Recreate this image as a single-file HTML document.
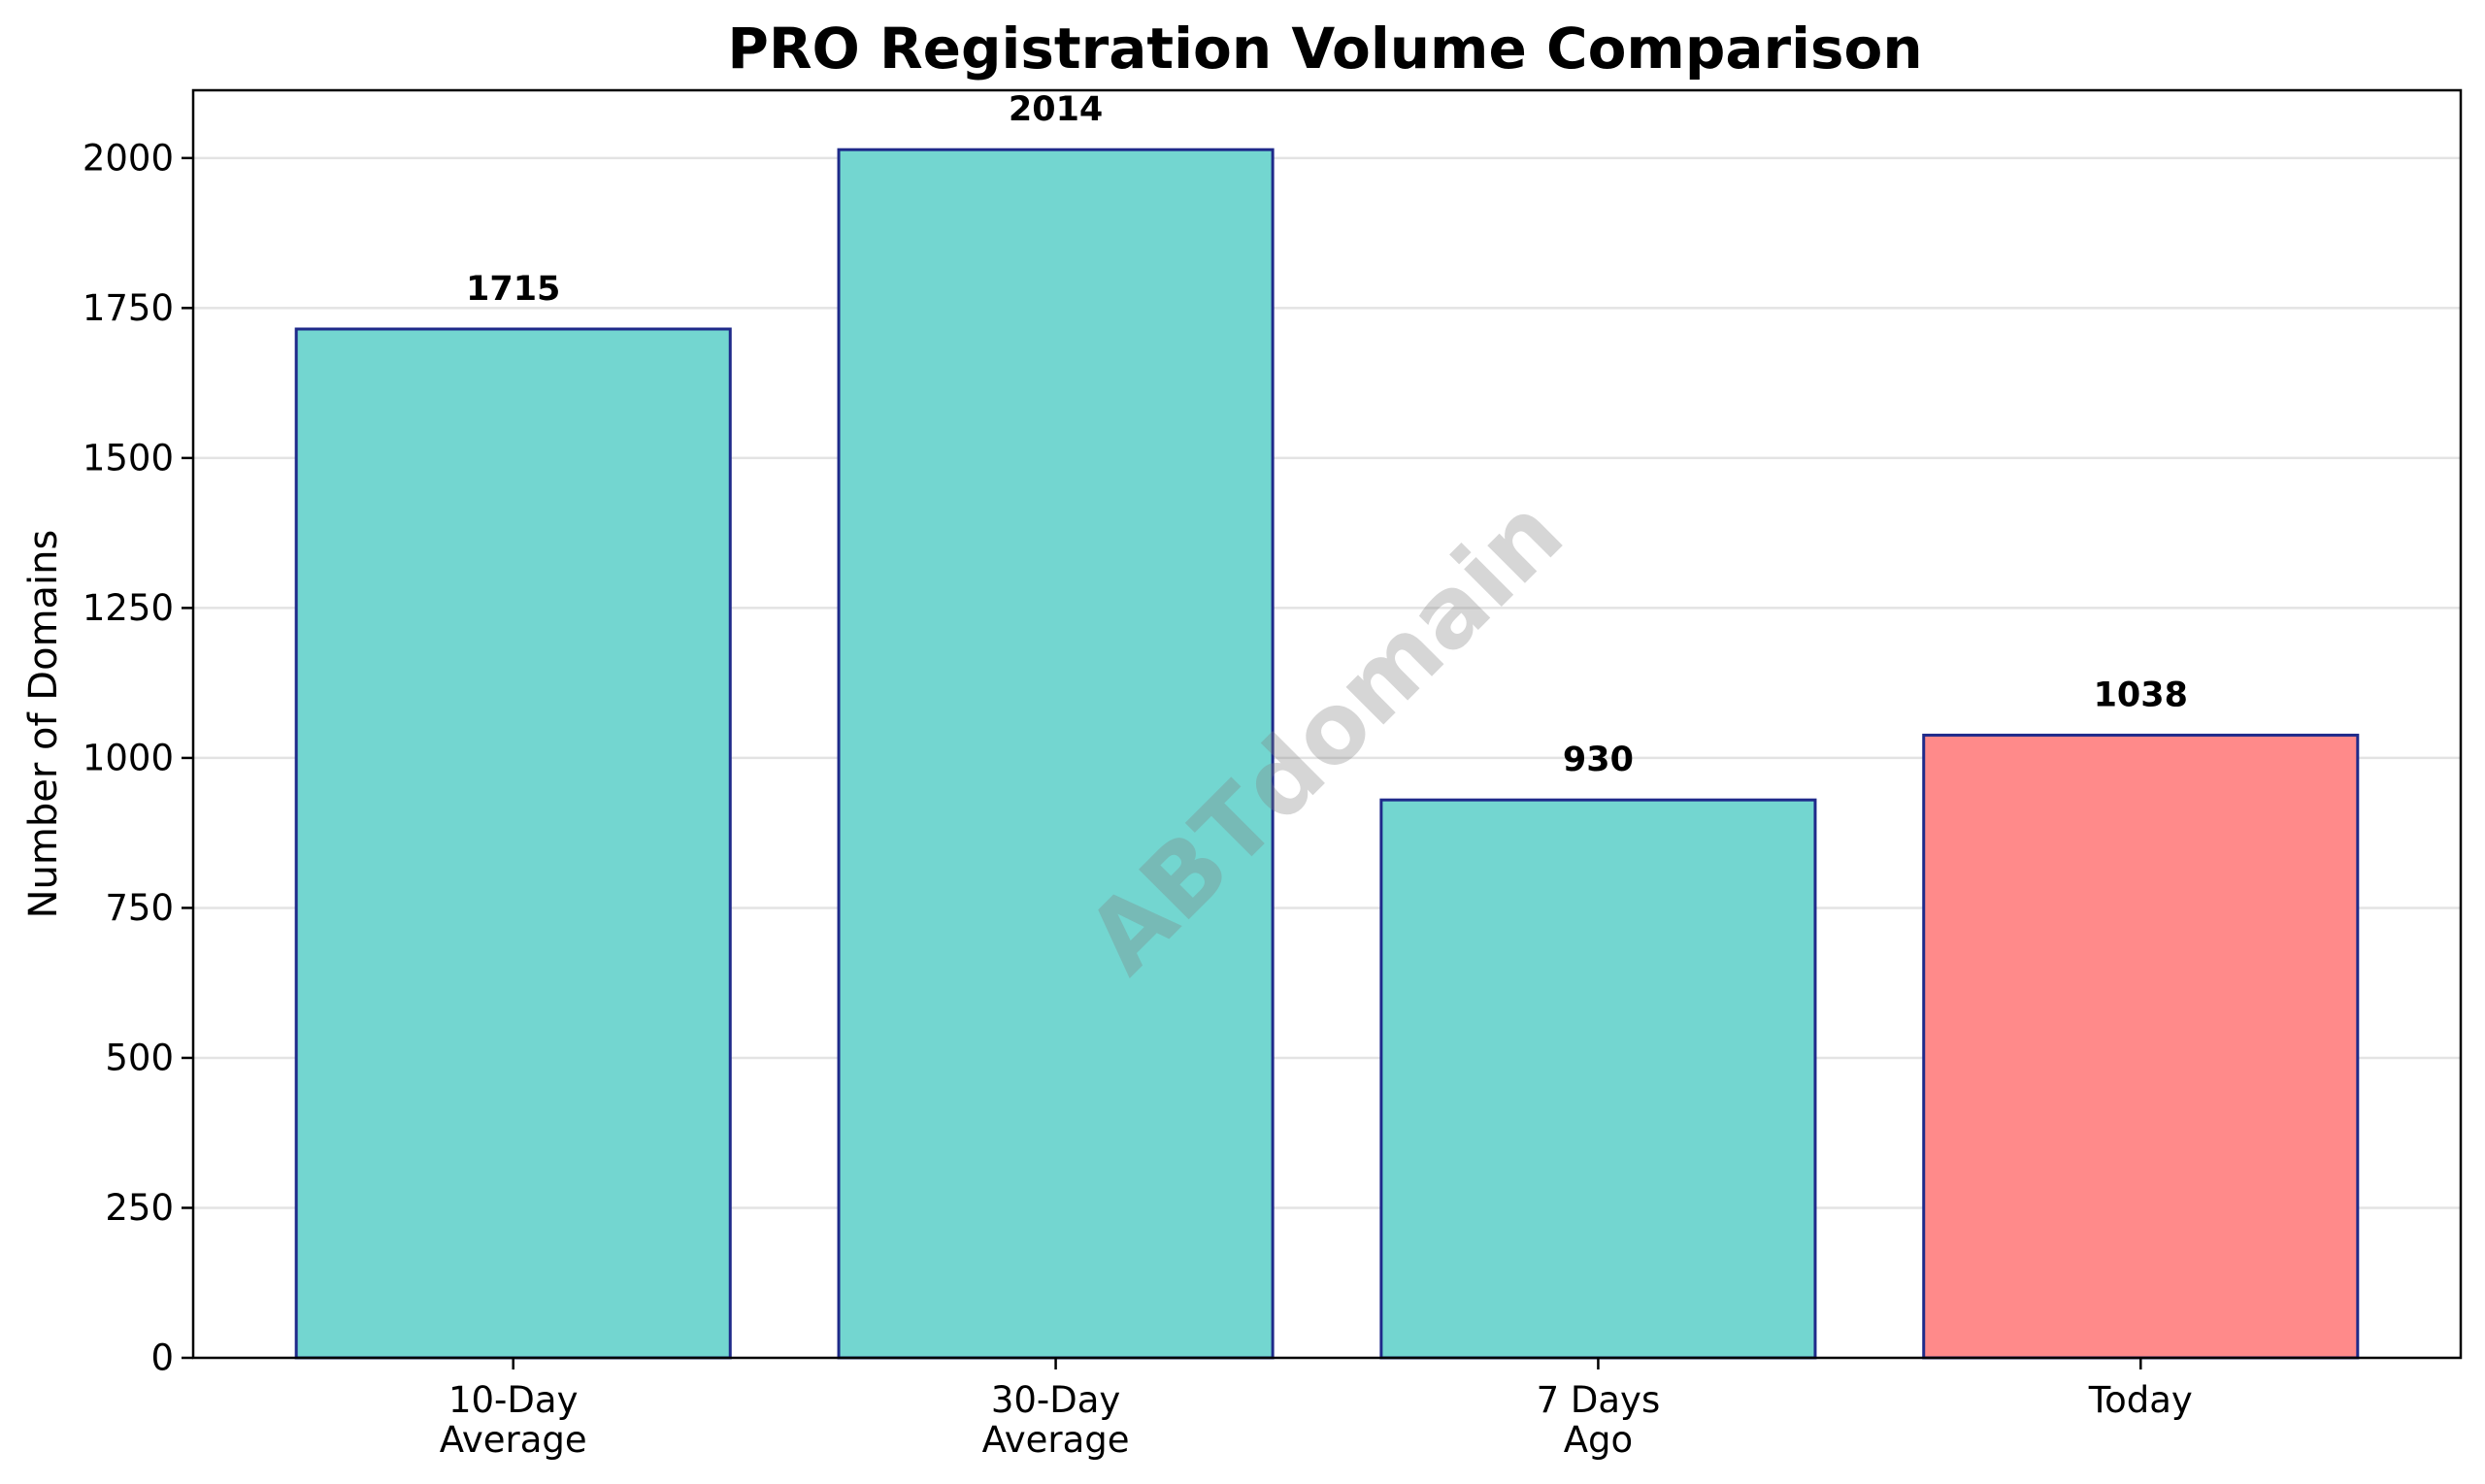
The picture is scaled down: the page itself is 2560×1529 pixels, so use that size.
<!DOCTYPE html>
<html><head><meta charset="utf-8"><style>
html,body{margin:0;padding:0;background:#fff;}
svg{display:block;font-family:"DejaVu Sans","Liberation Sans",sans-serif;}
</style></head><body>
<svg id="chart" width="2560" height="1529" viewBox="0 0 2560 1529" xmlns="http://www.w3.org/2000/svg">
<rect width="2560" height="1529" fill="#fff"/>
<g id="grid"></g>
<g id="bars"></g>
<text x="1365" y="758" font-size="100" font-weight="bold" fill="#808080" fill-opacity="0.32" text-anchor="middle" dominant-baseline="central" transform="rotate(-45 1365 758)">ABTdomain</text>
<g id="labels"></g>
<rect x="199" y="93" width="2336" height="1306" fill="none" stroke="#000" stroke-width="2.5"/>
<g id="yticks"></g>
<g id="xticks"></g>
<text x="1365" y="70" font-size="58" font-weight="bold" text-anchor="middle">PRO Registration Volume Comparison</text>
<text x="58" y="746" font-size="40" text-anchor="middle" transform="rotate(-90 58 746)">Number of Domains</text>
</svg>
<script>
const categories = [["10-Day","Average"],["30-Day","Average"],["7 Days","Ago"],["Today"]];
const values = [1715, 2014, 930, 1038];
const barColors = ["#73d6d0","#73d6d0","#73d6d0","#ff8a8a"];
const yTicks = [0,250,500,750,1000,1250,1500,1750,2000];

const NS = "http://www.w3.org/2000/svg";
const L = 199, R = 2535, T = 93, B = 1399;
const xMin = -0.59, xMax = 3.59, yMax = 2113;
function xs(v){ return L + (v - xMin) / (xMax - xMin) * (R - L); }
function ys(v){ return B - v / yMax * (B - T); }
function mk(tag, attrs, parent){
  const e = document.createElementNS(NS, tag);
  for (const k in attrs) e.setAttribute(k, attrs[k]);
  parent.appendChild(e); return e;
}
const grid = document.getElementById('grid');
const bars = document.getElementById('bars');
const labels = document.getElementById('labels');
const yt = document.getElementById('yticks');
const xt = document.getElementById('xticks');

yTicks.forEach(t => {
  const y = ys(t);
  if (t > 0) {
    const g = mk('line', {x1:L, x2:R, y1:y, y2:y, stroke:'#e3e3e3', 'stroke-width':2.5}, grid);
    
    
  }
  const tk = mk('line', {x1:L-12, x2:L, y1:y, y2:y, stroke:'#000', 'stroke-width':2.5}, yt);
  
  
  const tx = mk('text', {x:L-20, y:y, 'font-size':37, 'text-anchor':'end', 'dominant-baseline':'central'}, yt);
  tx.textContent = t;
  
  
});

const bw = 0.8;
values.forEach((v, i) => {
  const x0 = xs(i - bw/2), x1 = xs(i + bw/2);
  const r = mk('rect', {x:x0, y:ys(v), width:x1-x0, height:ys(0)-ys(v), fill:barColors[i], stroke:'#1f2a8a', 'stroke-width':3}, bars);
  
  
  const lb = mk('text', {x:xs(i), y:ys(v) - 30, 'font-size':35, 'font-weight':'bold', 'text-anchor':'middle'}, labels);
  lb.textContent = v;
  
  
  const tk = mk('line', {x1:xs(i), x2:xs(i), y1:B, y2:B+12, stroke:'#000', 'stroke-width':2.5}, xt);
  
  
  categories[i].forEach((line, j) => {
    const tx = mk('text', {x:xs(i), y:1455 + j*41, 'font-size':37, 'text-anchor':'middle'}, xt);
    tx.textContent = line;
    
    
  });
});
</script>
</body></html>
